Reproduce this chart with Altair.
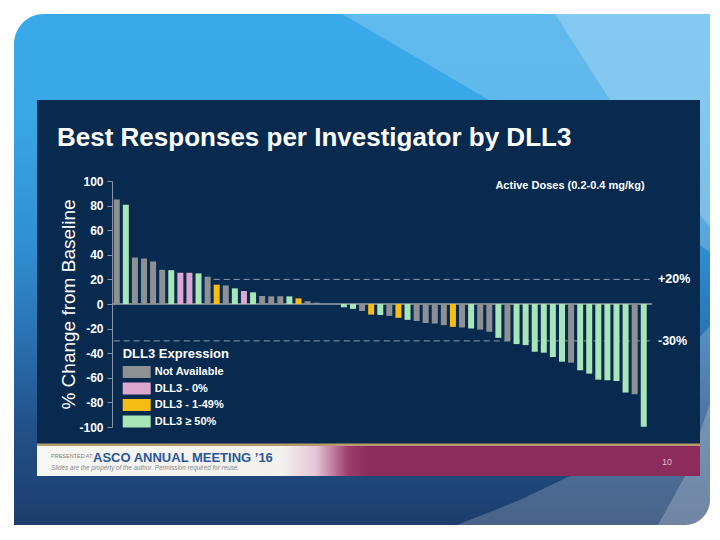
import altair as alt
import pandas as pd

FONT = "Liberation Sans"

# ---- data ----
NA, Z0, LOW, HIGH = "Not Available", "DLL3 - 0%", "DLL3 - 1-49%", "DLL3 \u2265 50%"
categories = [NA, Z0, LOW, HIGH]
cat_colors = ["#8e9093", "#dea7cf", "#f6be12", "#a8e5b7"]

change = [85, 80.7, 37.8, 37, 34.6, 27.8, 27.5, 25.4, 25.4, 24.9, 22.2, 15.7, 15.1, 12.7,
          10.5, 9.5, 6.5, 6.2, 6.2, 6.2, 4.6, 2.2, 1.1,
          0, 0,
          -2.7, -4, -5.7, -8.6, -8.9, -9.7, -11.3, -12.9, -13.8, -15.4, -15.9, -17.2, -18.6,
          -19.1, -19.9, -20.8, -22.6, -27.5, -30.2, -32.6, -33.4, -38.8, -39.6, -43.1, -46.9,
          -47.7, -53.9, -56.6, -61.5, -62, -62.6, -72, -73.4, -99.8]
expression = [NA, HIGH, NA, NA, NA, NA, HIGH, Z0, Z0, HIGH, NA, LOW, NA, HIGH, Z0, HIGH,
              NA, NA, NA, HIGH, LOW, NA, NA,
              NA, NA,
              HIGH, HIGH, NA, LOW, HIGH, NA, LOW, HIGH, NA, NA, NA, NA, LOW, NA, HIGH, NA,
              NA, HIGH, NA, HIGH, HIGH, HIGH, HIGH, HIGH, HIGH, NA, HIGH, HIGH, HIGH, HIGH,
              HIGH, HIGH, NA, HIGH]
patients = list(range(1, len(change) + 1))

ref_levels = [20, -30]
ref_start_patient = [12, 1]
ref_labels = ["+20%", "-30%"]
y_ticks = list(range(-100, 101, 20))

W, H = 540, 246

df = pd.DataFrame({"patient": patients, "change": change, "expr": expression})
refs = pd.DataFrame({"change": ref_levels, "patient": ref_start_patient, "label": ref_labels})
zero = pd.DataFrame({"change": [0]})
one = pd.DataFrame({"k": [0]})

xscale = alt.Scale(paddingInner=0.34, paddingOuter=0.385, align=0.25)
yscale = alt.Scale(domain=[-100, 100], nice=False)
ytitle = "% Change from Baseline"


def rect(x, x2, y, y2, color, **kw):
    return alt.Chart(one).mark_rect(color=color, **kw).encode(
        x=alt.value(x), x2=alt.value(x2), y=alt.value(y), y2=alt.value(y2))


def shape(path, color, opacity=1.0):
    return alt.Chart(one).mark_point(shape=path, filled=True, size=4, color=color,
                                     opacity=opacity, strokeWidth=0).encode(
        x=alt.value(0), y=alt.value(0))


def label(txt, x, y, size, color, weight="normal", style="normal", align="left",
          baseline="alphabetic"):
    return alt.Chart(pd.DataFrame({"t": [txt]})).mark_text(
        font=FONT, fontSize=size, color=color, fontWeight=weight, fontStyle=style,
        align=align, baseline=baseline).encode(x=alt.value(x), y=alt.value(y), text="t:N")


# ---- slide decoration ----
frame = rect(-98, 598, -167, 344, alt.LinearGradient(
    gradient="linear", x1=0, x2=0, y1=0, y2=1,
    stops=[alt.GradientStop(color="#3aa9e9", offset=0),
           alt.GradientStop(color="#39a7e7", offset=0.2),
           alt.GradientStop(color="#2f8fd2", offset=0.45),
           alt.GradientStop(color="#2a74b5", offset=0.62),
           alt.GradientStop(color="#22528a", offset=0.8),
           alt.GradientStop(color="#1c3d6d", offset=1)]),
    cornerRadiusTopLeft=30, cornerRadiusBottomRight=25)
stripe_a = shape("M230,-167L377,-81L640,100L458,295L408,319L345,344L600,344L600,-167Z",
                 "white", 0.2)
stripe_b = shape("M443,-167L498,-81L640,100L573,295L546,344L600,344L600,-167Z",
                 "white", 0.22)
panel = rect(-75, 588, -81, 295, "#082a4e")
gold = rect(-75, 588, 262.5, 265, "#b99c6b")
banner = rect(-75, 588, 265, 295, alt.LinearGradient(
    gradient="linear", x1=0, x2=1, y1=0, y2=0,
    stops=[alt.GradientStop(color="#f6f6f3", offset=0),
           alt.GradientStop(color="#f3f1ee", offset=0.37),
           alt.GradientStop(color="#e6c6d6", offset=0.42),
           alt.GradientStop(color="#9c3c6c", offset=0.47),
           alt.GradientStop(color="#8c2c5c", offset=0.5),
           alt.GradientStop(color="#8c2c5c", offset=1)]))
presented = label("PRESENTED AT:", -61, 277, 5.5, "#808080")
asco = label("ASCO ANNUAL MEETING \u201916", -19, 281, 13, "#2b5797", weight="bold")
slides = label("Slides are the property of the author. Permission required for reuse.",
               -61, 289, 6.3, "#8a8a8a", style="italic")
page_no = label("10", 550, 281, 9, "#e6b5ca", baseline="middle")

title = label("Best Responses per Investigator by DLL3", -55, -35, 26, "white", weight="bold")
doses = label("Active Doses (0.2-0.4 mg/kg)", 458, 5, 11, "white", weight="bold",
              align="center", baseline="middle")

# ---- chart ----
yaxis = alt.Axis(values=y_ticks, labelExpr="'' + datum.value", grid=False, zindex=1,
                 domainColor="#8793a5", tickColor="#8793a5", tickSize=5, labelPadding=4,
                 labelColor="white", labelFont=FONT, labelFontSize=12,
                 labelFontWeight="bold", titleColor="white", titleFont=FONT,
                 titleFontSize=19, titleFontWeight="normal", titlePadding=0)

zero_rule = alt.Chart(zero).mark_rule(color="#9aa3ae", strokeWidth=1.3).encode(
    y=alt.Y("change:Q", scale=yscale, axis=yaxis, title=ytitle))

ref_rules = alt.Chart(refs).mark_rule(color="#8d97a6", strokeDash=[6, 4], strokeWidth=1).encode(
    x=alt.X("patient:O", bandPosition=0, scale=xscale, axis=None),
    x2=alt.value("width"),
    y=alt.Y("change:Q", scale=yscale, axis=yaxis, title=ytitle))

bars = alt.Chart(df).mark_bar().encode(
    x=alt.X("patient:O", scale=xscale, axis=None),
    y=alt.Y("change:Q", scale=yscale, axis=yaxis, title=ytitle),
    color=alt.Color("expr:N", scale=alt.Scale(domain=categories, range=cat_colors),
                    legend=alt.Legend(
                        orient="none", legendX=10.7, legendY=167,
                        title="DLL3 Expression", titleColor="white", titleFont=FONT,
                        titleFontSize=13, titleFontWeight="bold", titlePadding=5,
                        labelColor="white", labelFont=FONT, labelFontSize=11,
                        labelFontWeight="bold", symbolType="M-2.333,-1H2.333V1H-2.333Z",
                        symbolSize=144, symbolOffset=8, labelOffset=12, rowPadding=4.5,
                        symbolStrokeWidth=0, symbolOpacity=1)))

ref_text = alt.Chart(refs).mark_text(font=FONT, fontSize=12.5, fontWeight="bold",
                                     color="white", align="left", baseline="middle",
                                     dx=6).encode(
    x=alt.value("width"),
    y=alt.Y("change:Q", scale=yscale, axis=yaxis, title=ytitle),
    text="label:N")

chart = alt.layer(
    frame, stripe_a, stripe_b, panel, gold, banner, presented, asco, slides, page_no,
    title, doses, zero_rule, ref_rules, bars, ref_text
).properties(
    width=W, height=H, autosize="none",
    padding={"left": 104, "top": 173, "right": 60, "bottom": 105},
    background="white",
).configure_view(stroke="transparent")

chart.save("out.html", embed_options={"renderer": "svg", "actions": False})
